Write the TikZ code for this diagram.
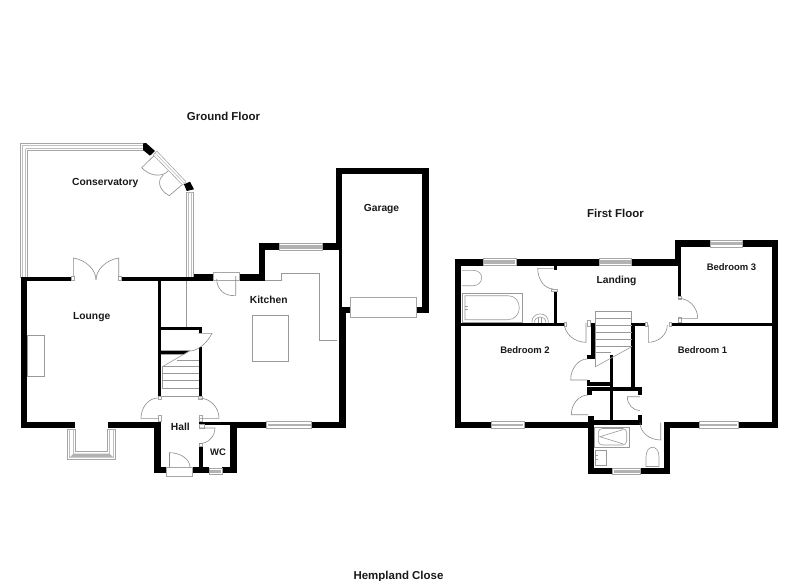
\documentclass[tikz,border=0pt]{standalone}
\usepackage{fontspec}
\setmainfont{Liberation Sans}
\usetikzlibrary{calc}
\tikzset{
  wall/.style={fill=black,draw=none},
  fixture/.style={draw=black!40,line width=0.45pt,fill=none},
  glass/.style={draw=black!35,line width=0.45pt,fill=white},
  pane/.style={fill=black!30,draw=none},
  doorline/.style={draw=black!45,line width=0.45pt},
  labeltext/.style={inner sep=0pt,text=black!90,text height=5.5pt,text depth=0pt,yshift=-0.6pt},
  room/.style={labeltext,font=\bfseries\fontsize{7.7}{9}\selectfont},
  bedroom/.style={labeltext,font=\bfseries\fontsize{7.1}{9}\selectfont},
  floortitle/.style={labeltext,text height=6pt,font=\bfseries\fontsize{8.6}{10}\selectfont}
}
% wall rectangle
\newcommand{\wl}[2]{\fill[wall] (#1) rectangle (#2);}
% horizontal window: x1,x2,y1,y2
\newcommand{\winH}[4]{\draw[glass] (#1,#3) rectangle (#2,#4);
  \fill[pane] (#1+1,#3+1.8) rectangle (#2-1,#4-1.8);}
% door: hinge, leaf end, arc end
\newcommand{\doorL}[3]{\draw[doorline] (#1) -- (#2) .. controls ($(#2)+.55*(#3)-.55*(#1)$) and ($(#3)+.55*(#2)-.55*(#1)$) .. (#3);}
% stub at wall end
\newcommand{\stub}[2]{\draw[glass] (#1) rectangle (#2);}
\begin{document}
\begin{tikzpicture}[x=0.75pt,y=-0.75pt]
\useasboundingbox (0,0) rectangle (800,581);
\fill[white] (0,0) rectangle (800,581);

% ---------- Conservatory frame
\draw[glass] (20,143) -- (144,143) -- (144,150.5) -- (27.5,150.5) -- (27.5,277) -- (20,277) -- cycle;
\draw[fixture,black!25] (21.8,145) -- (144,145) (21.8,145) -- (21.8,277);
\draw[fixture,black!25] (25.5,148.7) -- (144,148.7) (25.5,148.7) -- (25.5,277);
\draw[glass] (186,192) rectangle (193.3,277);
\draw[fixture,black!25] (188,192) -- (188,277) (191.4,192) -- (191.4,277);
\fill[wall] (146,143) -- (155,151) -- (150,155.7) -- (143,150) -- (143,143.5) -- cycle;
\fill[wall] (184,184.3) -- (190,181.7) -- (194,189.3) -- (186.7,191) -- cycle;
\draw[glass] (156.7,151) -- (186,181.7) -- (182.7,185) -- (153.3,155) -- cycle;
\draw[fixture,black!25] (155,153) -- (184.5,183.3);
\doorL{154,155.7}{141.7,167.7}{{168.3,171}}
\doorL{181.7,185}{169.3,195.7}{{163.3,175}}

% ---------- Lounge
\wl{21,277}{27.3,427.7}
\wl{21,276.7}{74,280.7}
\wl{121.7,276.7}{194,280.7}
\wl{194,274}{213,280.7}
\wl{21,421.7}{75,427.7}
\wl{107.7,421.7}{160.7,427.7}
\wl{158,280}{161.3,396}
\stub{71.5,276.7}{74,280.7}
\stub{118.7,276.7}{121.7,280.7}
\doorL{73.3,276.7}{73.3,258}{{96,280}}
\doorL{118.7,276.7}{118.7,258}{{96,280}}
\draw[fixture] (27.3,335) rectangle (44,376.7);
% Bay window
\draw[glass] (67.3,429) -- (75.7,429) -- (75.7,451.7) -- (107.7,451.7) -- (107.7,429) -- (115.3,429) -- (115.3,459.3) -- (67.3,459.3) -- cycle;
\fill[black!30] (69.5,457.5) -- (73.5,453.5) -- (109.5,453.5) -- (113.5,457.5) -- cycle;
\draw[fixture,black!25] (69.5,429) -- (69.5,457.5) (73.5,429) -- (73.5,453.5) (109.5,429) -- (109.5,453.5) (113.5,429) -- (113.5,457.5);

% ---------- Hall and WC
\wl{154.3,421.7}{160.7,473.3}
\wl{154.3,467.3}{166.7,473.3}
\wl{192.7,467.3}{209.3,473.3}
\wl{222,467.3}{237,473.3}
\wl{230,421.7}{236.7,473.3}
\wl{199,446}{202.7,468}
\wl{199,421.7}{266.7,424.6}
\stub{199,424.6}{204,428}
\stub{199,443.7}{202.7,446}
\stub{158,396}{161.3,399}
\stub{198.7,396}{202.3,399}
\stub{158,415.5}{161,421.7}
\stub{199,415.5}{202.3,421.7}
\winH{209.3}{222}{468}{474.5}
\draw[glass] (166.7,467.3) rectangle (192.7,476);
\doorL{169.5,467.3}{169.5,452.7}{{190,467.3}}
\doorL{199,418.3}{219,418.3}{{199,398}}
\doorL{158,418.3}{141,418.3}{{158,398}}
\doorL{199,428}{215,428}{{199,443.7}}

% ---------- Stairs ground
\wl{161,326.7}{202.3,330}
\wl{198.7,326.7}{202.3,332.7}
\fill[wall] (161,350.7) -- (190,350.7) -- (184,354.3) -- (161,354.3) -- cycle;
\wl{198.7,346.7}{202.3,396}
\doorL{198.7,333.3}{212,333.3}{{190,351}}
\draw[fixture] (162.3,366.7) -- (190,350.7);
\draw[fixture] (162.3,366.7) -- (162.3,388.3);
\draw[fixture] (176.7,360) -- (198.7,360);
\foreach \ty in {366.7,373.3,380.7,388.3,396}{\draw[fixture] (162.3,\ty) -- (198.7,\ty);}
\draw[fixture] (186,280.7) -- (186,326.7);

% ---------- Kitchen
\wl{259,243.3}{279,250}
\wl{322.7,243.3}{339,250}
\wl{259,243.3}{265.3,280.7}
\wl{239,274}{265.3,280.7}
\wl{339,243.3}{342.3,307}
\wl{339,307}{345.7,427.7}
\wl{230,421.7}{266.7,427.7}
\wl{311.7,421.7}{345.7,427.7}
\winH{279}{322.7}{243.3}{250.5}
\winH{266.7}{311.7}{421.7}{428.2}
\draw[glass] (213,272) rectangle (239.3,280);
\doorL{235.7,276}{235.7,295.3}{{216.7,279}}
\draw[fixture] (265.3,280.7) -- (281,280.7) -- (281,273.7) -- (319,273.7) -- (319,340.3) -- (337.3,340.3);
\draw[fixture] (252.3,315.3) rectangle (288.3,361.7);

% ---------- Garage
\wl{335.7,168.3}{428.7,174.3}
\wl{335.7,168.3}{342.3,250}
\wl{422.3,168.3}{428.7,313.3}
\wl{342.3,307.3}{350.3,313.3}
\wl{416.3,307.3}{428.7,313.3}
\draw[glass] (350.3,297.3) rectangle (416.3,317.3);

% ---------- First floor outer walls
\wl{454.7,258.7}{483.3,265.7}
\wl{516,258.7}{599.3,265.7}
\wl{631.7,258.7}{681,265.7}
\wl{454.7,258.7}{461.3,428}
\wl{675,240.3}{710,247}
\wl{742.7,240.3}{778.3,247}
\wl{675,240.3}{681,265.7}
\wl{772.3,240.3}{778.3,428}
\wl{677.7,265}{681,296.7}
\winH{483.3}{516}{258.7}{265.7}
\winH{599.3}{631.7}{258.7}{265.7}
\winH{710}{742.7}{240.3}{247}
% Bottom walls
\wl{454.7,421.7}{491,428}
\wl{524,421.7}{594.3,428}
\winH{491}{524}{421.7}{428}
\wl{588.3,416}{594.3,474}
\wl{588.3,468.3}{612.7,474}
\wl{640.7,468.3}{670,474}
\winH{612.7}{640.7}{468.3}{474.5}
\wl{664,421.7}{670,474}
\wl{664,421.7}{699,428}
\wl{738,421.7}{778.3,428}
\winH{699}{738}{421.7}{428}
% Internal walls
\wl{461,322.7}{564.3,326.3}
\wl{553.7,291.7}{557,322.7}
\wl{553.7,265.7}{557,269.5}
\wl{590.7,323.3}{594.7,355}
\wl{586.7,355}{594.7,359.3}
\wl{631,323}{635,387.3}
\wl{631,323.3}{645,326.3}
\wl{671.7,322.7}{772.3,326.3}
\wl{610,355}{613.3,421.7}
\wl{586.7,381.7}{610,386}
\wl{586.7,380}{590,386}
\wl{587.3,387.3}{641.7,390.7}
\wl{587.3,387.3}{591.5,395}
\wl{638.3,387.3}{641.7,395}
\wl{588.3,420}{641.7,425}
\wl{638.3,415}{641.7,423}
\stub{551.5,289}{557,291.7}
\stub{564.3,322.7}{566,326.3}
\stub{587.5,320}{590.7,326.3}
\stub{645,322.7}{647.5,326.3}
\stub{669,322.7}{671.7,326.3}
\stub{678,296.7}{681,299}
\stub{678,317.5}{681,322.7}
% Doors
\doorL{553.3,268.3}{537.7,268.3}{{553.3,289}}
\doorL{586,323}{586,342.3}{{564.3,323}}
\doorL{678.3,318.3}{697.7,318.3}{{678.3,298.3}}
\doorL{648.3,325}{648.3,342.3}{{667.3,325}}
\doorL{587.3,380}{570.7,380}{{587.3,359}}
\doorL{588.3,414.7}{571.3,414.7}{{588.3,395}}
\doorL{640,396.7}{627.3,396.7}{{640,410.7}}
\doorL{660.7,422.7}{660.7,440}{{640,422.7}}
% Stairs first
\foreach \ty in {311,318.3,325,332.3,339,346}{\draw[fixture] (595.5,\ty) -- (631.5,\ty);}
\draw[fixture] (595.5,352.7) -- (611,352.7);
\draw[fixture] (631.5,311) -- (631.5,323);
\draw[fixture] (595.5,311) -- (595.5,366.7) -- (631.7,346.7);
% Bathroom fittings
\draw[fixture] (462,270.3) -- (473.3,270.3) .. controls (478,270.3) and (481.7,273.5) .. (481.7,277.7) .. controls (481.7,282) and (478,285.7) .. (473.3,285.7) -- (462,285.7);
\draw[fixture] (462,293) rectangle (522.3,322.5);
\draw[fixture] (465,295.7) -- (508,295.7) .. controls (515,295.7) and (519.3,301) .. (519.3,307.7) .. controls (519.3,314) and (515,319.7) .. (508,319.7) -- (465,319.7) -- cycle;
\draw[fixture] (464.5,306) -- (468,306) (464.5,309) -- (468,309);
\draw[fixture] (531.8,322.5) .. controls (531.8,311) and (548.5,311) .. (548.5,322.5);
\draw[fixture] (534.5,322.5) .. controls (534.5,315) and (545.8,315) .. (545.8,322.5);
\draw[fixture] (538.5,318) -- (538.5,322.5) (541.5,318) -- (541.5,322.5);
\draw[fixture] (594.3,427.3) rectangle (629,447.3);
\draw[fixture,rounded corners=3pt] (598.3,428.5) rectangle (626.7,445);
\draw[fixture] (623.3,429.5) -- (600,436.7) -- (623.3,444);
\draw[fixture] (595,450) rectangle (606.7,465);
\draw[fixture] (595,455.5) -- (598,455.5) (595,459.5) -- (598,459.5);
\draw[fixture] (646,466.5) -- (646,457) .. controls (646,444) and (659,444) .. (659,457) -- (659,466.5) -- cycle;

% ---------- Labels
\node[floortitle] (groundtitle) at (223.5,116) {Ground Floor};
\node[floortitle] (firsttitle) at (615.5,213) {First Floor};
\node[floortitle] (addr) at (398.5,574.7) {Hempland Close};
\node[room] (conservatory) at (105.3,181.5) {Conservatory};
\node[room] (lounge) at (91.7,315) {Lounge};
\node[room] (hall) at (180.3,426.5) {Hall};
\node[bedroom] (wc) at (218,451.5) {WC};
\node[room] (kitchen) at (268.7,298.7) {Kitchen};
\node[room] (garage) at (381.5,207) {Garage};
\node[room] (landing) at (616.5,279.5) {Landing};
\node[bedroom] (bed3) at (731.5,266) {Bedroom 3};
\node[bedroom] (bed2) at (525,349.5) {Bedroom 2};
\node[bedroom] (bed1) at (702.5,349.5) {Bedroom 1};
\end{tikzpicture}
\end{document}
